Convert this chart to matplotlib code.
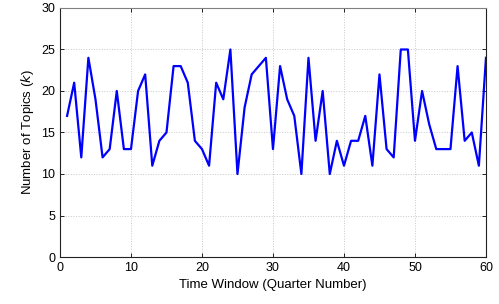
import matplotlib
matplotlib.use('Agg')
import matplotlib.pyplot as plt

plt.rcParams['font.family'] = ['Liberation Sans', 'DejaVu Sans']

# Number of topics per quarter
quarters = list(range(1, 61))
topics = [17, 21, 12, 24, 19, 12, 13, 20, 13, 13,
          20, 22, 11, 14, 15, 23, 23, 21, 14, 13,
          11, 21, 19, 25, 10, 18, 22, 23, 24, 13,
          23, 19, 17, 10, 24, 14, 20, 10, 14, 11,
          14, 14, 17, 11, 22, 13, 12, 25, 25, 14,
          20, 16, 13, 13, 13, 23, 14, 15, 11, 24]
x_ticks = [0, 10, 20, 30, 40, 50, 60]
y_ticks = [0, 5, 10, 15, 20, 25, 30]

fig = plt.figure(figsize=(4.99, 3.04), dpi=100)
ax = fig.add_axes([0.1202, 0.1546, 0.8537, 0.8191])

ax.plot(quarters, topics, color='#0000ff', linewidth=1.6)

ax.set_xlim(0, 60)
ax.set_ylim(0, 30)
ax.set_xticks(x_ticks)
ax.set_yticks(y_ticks)
ax.tick_params(direction='in', top=True, right=True, labelsize=9, length=3, width=0.6)
ax.grid(True, linestyle=':', color='#c8c8c8', linewidth=0.7)
for s in ax.spines.values():
    s.set_linewidth(0.8)
    s.set_color('#222222')
ax.spines['top'].set_color('#808080')

ax.set_xlabel('Time Window (Quarter Number)', fontsize=9.5)
ax.set_ylabel('Number of Topics ($k$)', fontsize=9.5)

fig.savefig('out.png', dpi=100)
